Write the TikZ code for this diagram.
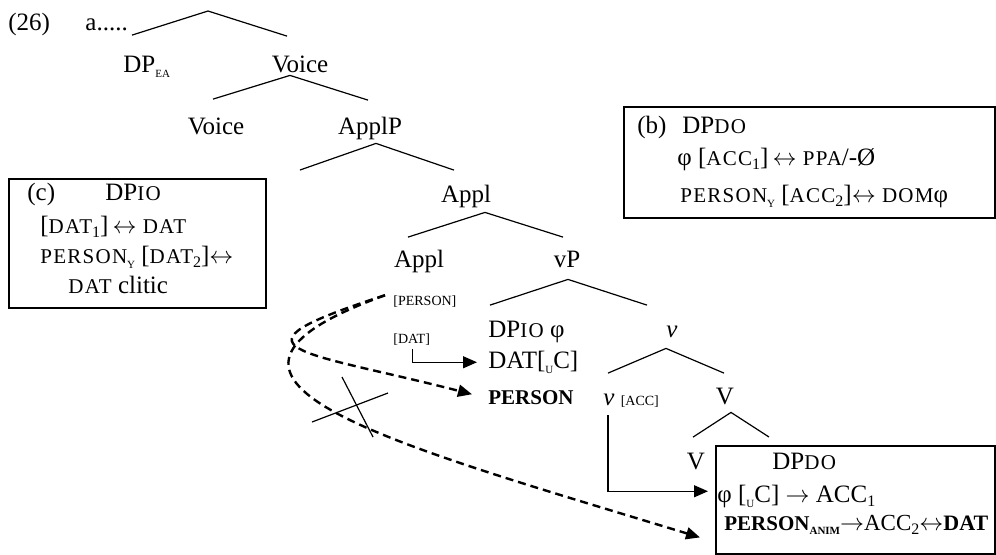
\documentclass[tikz,border=0pt]{standalone}
\usepackage{fontspec}
\setmainfont{Liberation Serif}
\usetikzlibrary{arrows.meta,calc}

% fake small caps and small labels
\newcommand{\smc}[1]{{\fontsize{10.5}{12}\selectfont\addfontfeatures{LetterSpace=6}#1}}
\newcommand{\feat}[1]{{\fontsize{7}{8}\selectfont[#1]}}
\newcommand{\tinysub}[1]{\raisebox{-0.5ex}{\fontsize{5.5}{6}\selectfont #1}}
\newcommand{\numsub}[1]{\raisebox{-0.4ex}{\fontsize{8}{9}\selectfont #1}}
\newcommand{\lra}{\ensuremath{\leftrightarrow}}
\newcommand{\ra}{\ensuremath{\rightarrow}}

\begin{document}
\begin{tikzpicture}[x=0.5pt, y=-0.5pt,
    every node/.style={font=\fontsize{12.5}{15}\selectfont, inner sep=0pt, text height=8.75pt, text depth=3pt},
    lbl/.style={anchor=base},
    ln/.style={anchor=base west},
    branch/.style={line width=0.6pt},
    frame/.style={draw, line width=1.2pt, anchor=north west, text height=0pt, text depth=0pt},
    ptr/.style={line width=0.6pt, -{Triangle[length=7pt,width=6pt]}},
    dptr/.style={line width=1.2pt, dash pattern=on 4pt off 2.5pt, -{Triangle[length=7pt,width=6pt]}}]

\useasboundingbox (0,0) rectangle (996,554);

% tree
\node[ln] (ex) at (8,30) {(26)};
\node[ln] (exa) at (85,30) {a.....};
\coordinate (root) at (208,11);
\node[ln] (dpea) at (123,72) {DP\tinysub{EA}};
\node[lbl] (voiceA) at (300,72) {Voice};
\node[lbl] (voiceB) at (216,134) {Voice};
\node[lbl] (applP) at (370,134) {ApplP};
\coordinate (applPleft) at (300,170);
\node[lbl] (applA) at (466,202) {Appl};
\node[lbl] (applB) at (419,267) {Appl};
\node[lbl] (vP) at (567,267) {vP};
\node[ln] (personTag) at (393,305) {\feat{PERSON}};
\node[ln] (datTag) at (393,343) {\feat{DAT}};
\node[ln] (dpio) at (488,337) {DP\smc{IO} φ};
\node[ln] (datuc) at (488,368) {DAT[\tinysub{U}C]};
\node[ln] (personB) at (488,404) {\fontsize{10.5}{12}\selectfont\bfseries PERSON};
\node[lbl] (vsmall) at (672,337) {\textit{v}};
\node[ln] (vacc) at (603,405) {\textit{v} \feat{ACC}};
\node[lbl] (VA) at (725,404) {V};
\node[lbl] (VB) at (696,469) {V};

% boxes
\node[frame, minimum width=128.5pt, minimum height=64.5pt] (boxC) at (8,178) {};
\node[frame, minimum width=185.5pt, minimum height=55.5pt] (boxB) at (623,106) {};
\node[frame, minimum width=139.5pt, minimum height=54pt] (boxDO) at (715,445) {};

\node[ln] (cLab) at (27,200) {(c)};
\node[ln] (cHead) at (105,200) {DP\smc{IO}};
\node[ln] (cRowA) at (40,233) {[\smc{DAT}\numsub{1}]\,\lra\ \smc{DAT}};
\node[ln] (cRowB) at (40,263) {\smc{PERSON}\tinysub{Y}\ [\smc{DAT}\numsub{2}]\lra};
\node[ln] (cRowC) at (68,293) {\smc{DAT} clitic};

\node[ln] (bLab) at (637,133) {(b)};
\node[ln] (bHead) at (682,133) {DP\smc{DO}};
\node[ln] (bRowA) at (677,165) {φ [\smc{ACC}\numsub{1}]\,\lra\ \smc{PPA}/-Ø};
\node[ln] (bRowB) at (680,202) {\smc{PERSON}\tinysub{Y}\ [\smc{ACC}\numsub{2}]\lra\ \smc{DOM}φ};

\node[ln] (doHead) at (772,469) {DP\smc{DO}};
\node[ln] (doRowA) at (717,502) {φ [\tinysub{U}C] \ra\ ACC\numsub{1}};
\node[ln] (doRowB) at (724,530) {\fontsize{11.5}{13}\selectfont{\fontsize{10.5}{12}\selectfont\bfseries PERSON\tinysub{ANIM}}\ra ACC\numsub{2}\lra{\fontsize{11}{12}\selectfont\bfseries DAT}};

% branches
\draw[branch] ($(dpea.north west)+(9,-19)$) -- (root) -- ($(voiceA.north)+(-13,-18)$);
\draw[branch] ($(voiceB.north)+(-3,-17)$) -- ($(voiceA.south)+(-10,-3)$) -- ($(applP.north)+(-2,-16)$);
\draw[branch] (applPleft) -- ($(applP.south)+(6,3)$) -- ($(applA.north)+(-12,-14)$);
\draw[branch] ($(applB.north)+(-11,-12)$) -- ($(applA.south)+(19,4)$) -- ($(vP.north)+(-4,-12)$);
\draw[branch] ($(dpio.north west)+(2,-14)$) -- ($(vP.south)+(1,6)$) -- ($(vsmall.north)+(-25,-14)$);
\draw[branch] ($(vacc.north west)+(5,-14)$) -- ($(vsmall.south)+(-6,5)$) -- ($(VA.north)+(-1,-13)$);
\draw[branch] ($(VB.north)+(-3,-14)$) -- ($(VA.south)+(6,2)$) -- ($(boxDO.north west)+(54,-8)$);

% arrows
\draw[ptr] ($(datTag.south)+(1,0)$) |- ($(datuc.west)+(-11,0)$);
\draw[ptr] ($(vacc.south west)+(5,4)$) |- ($(doRowA.west)+(-9,-5)$);
\draw[dptr] ($(personTag.west)+(-8,-4)$) .. controls (215,350) and (300,350) .. ($(personB.west)+(-16,-4)$);
\draw[dptr] ($(personTag.west)+(-8,-4)$) .. controls (150,380) and (380,440) .. ($(boxDO.south west)+(-15,-18)$);

% cross
\draw[branch] (312,422) -- (388,393);
\draw[branch] (342,377) -- (373,437);

\end{tikzpicture}
\end{document}
